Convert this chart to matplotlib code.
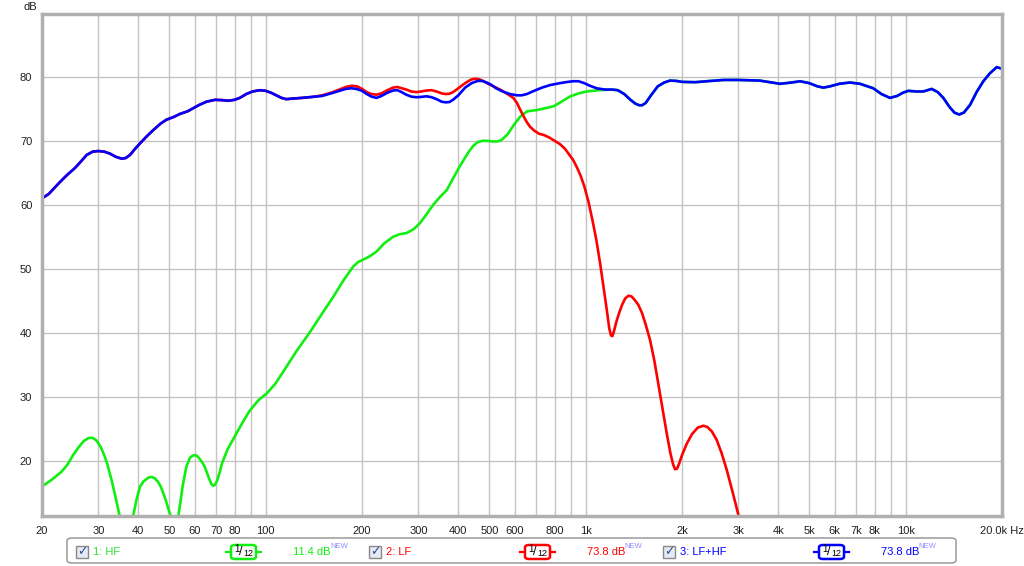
import matplotlib
matplotlib.use("Agg")
import matplotlib.pyplot as plt
from matplotlib.patches import FancyBboxPatch, Rectangle
from matplotlib.lines import Line2D

plt.rcParams['font.family'] = ['Liberation Sans', 'DejaVu Sans']

# ---------------- data ----------------
freq_hf = [20, 21.5, 23, 24, 25, 26, 27, 28, 28.8, 29.6, 30.5, 31.3, 32, 33, 34, 35, 36.7, 38.5,
           39.5, 40.5, 41.5, 43, 44, 45, 46, 47, 48, 49, 50.5, 52, 53.3, 54.3, 55, 56.5, 58, 59,
           60, 61, 62, 63.3, 64.5, 65.5, 66.5, 67.5, 68.5, 69.5, 70.5, 72, 73, 76, 79, 84, 89,
           95, 101, 107, 113, 125, 137, 150, 163, 175, 188, 195, 201, 212, 222, 235, 250, 262,
           276, 290, 303, 318, 334, 350, 368, 383, 404, 430, 445, 460, 476, 492, 510, 530, 545,
           570, 597, 625, 656, 704, 750, 795, 840, 892, 950, 1007, 1100, 1200, 1260,
           1320, 1380, 1430, 1470, 1500, 1540, 1600, 1680, 1760, 1834, 1920, 2000, 2200, 2388,
           2700, 3000, 3500, 4048, 4400, 4676, 5000, 5300, 5530, 5800, 6200, 6700, 7198, 7920,
           8400, 8930, 9400, 9800, 10190, 10800, 11350, 12060, 12600, 13110, 13700, 14200,
           14700, 15200, 15890, 16700, 17490, 18300, 19250, 20000]
db_hf = [16.0, 17.1, 18.3, 19.4, 20.9, 22.1, 23.1, 23.6, 23.6, 23.2, 22.2, 20.9, 19.5, 17.0, 14.2,
         11.3, 3.0, 11.3, 14.0, 16.0, 16.8, 17.4, 17.5, 17.3, 16.8, 16.0, 14.8, 13.5, 11.3, 3.0,
         11.3, 14.0, 16.0, 19.1, 20.5, 20.8, 20.9, 20.8, 20.4, 19.8, 19.1, 18.2, 17.3, 16.5, 16.1,
         16.3, 16.9, 18.4, 19.6, 21.8, 23.3, 25.7, 27.8, 29.5, 30.6, 32.0, 33.8, 37.2, 40.0, 43.0,
         45.7, 48.2, 50.4, 51.1, 51.4, 52.0, 52.7, 54.0, 55.0, 55.4, 55.6, 56.2, 57.1, 58.5, 60.0,
         61.2, 62.3, 63.9, 66.0, 68.2, 69.2, 69.8, 70.0, 70.0, 69.9, 69.9, 70.1, 71.0, 72.5, 73.8,
         74.6, 74.8, 75.1, 75.4, 76.1, 76.9, 77.4, 77.7, 77.9, 78.0, 77.9,
         77.3, 76.4, 75.8, 75.55, 75.55, 75.9, 77.1, 78.5, 79.1, 79.4, 79.35, 79.2, 79.15, 79.3,
         79.5, 79.5, 79.4, 78.9, 79.1, 79.3, 79.0, 78.5, 78.3, 78.5, 78.9, 79.1, 78.9, 78.2,
         77.3, 76.7, 77.0, 77.5, 77.8, 77.7, 77.7, 78.1, 77.6, 76.7, 75.3, 74.4,
         74.1, 74.4, 75.6, 77.7, 79.3, 80.5, 81.5, 81.25]

freq_lf = [20, 21, 22.8, 24, 25.3, 26.5, 27.6, 28.8, 30, 31.3, 32.6, 34, 35.5, 36.5, 37.7, 39,
           40.5, 42.5, 44.6, 47, 49, 51.5, 54, 57, 59.4, 62, 65.3, 69.5, 73, 76.4, 80, 83, 87, 91,
           96, 100, 104, 108, 112, 116, 122, 130, 140, 150, 160, 170, 178, 186, 193, 200, 207,
           214, 222, 230, 240, 250, 258, 266, 275, 285, 296, 306, 318, 330, 342, 355, 365, 375,
           385, 400, 420, 438, 451, 465, 480, 500, 520, 545, 570, 594, 610, 625, 640, 655, 670,
           690, 715, 740, 770, 800, 830, 860, 890, 914, 940, 965, 990, 1020, 1050, 1080, 1110,
           1140, 1164, 1185, 1200, 1212, 1225, 1245, 1270, 1300, 1330, 1360, 1390, 1420, 1460,
           1500, 1540, 1589, 1640, 1686, 1740, 1792, 1840, 1875, 1902, 1930, 1960, 2000, 2070,
           2150, 2240, 2332, 2400, 2480, 2566, 2660, 2760, 2880, 3000, 3080]
db_lf = [61.0, 61.7, 63.6, 64.7, 65.7, 66.8, 67.8, 68.3, 68.4, 68.3, 68.0, 67.5, 67.2, 67.3, 67.8,
         68.7, 69.6, 70.7, 71.7, 72.7, 73.3, 73.7, 74.2, 74.6, 75.1, 75.6, 76.1, 76.4, 76.35, 76.25,
         76.4, 76.7, 77.3, 77.7, 77.9, 77.8, 77.5, 77.1, 76.7, 76.5, 76.6, 76.7, 76.85, 77.1, 77.5,
         78.0, 78.4, 78.6, 78.5, 78.1, 77.6, 77.3, 77.2, 77.4, 77.9, 78.3, 78.4, 78.2, 78.0, 77.7,
         77.6, 77.7, 77.85, 77.9, 77.7, 77.4, 77.3, 77.35, 77.6, 78.2, 79.0, 79.55, 79.7, 79.6,
         79.3, 78.8, 78.4, 77.9, 77.3, 76.7, 75.9, 74.8, 73.8, 72.9, 72.2, 71.6, 71.1, 70.9, 70.5,
         70.0, 69.5, 68.8, 67.8, 67.0, 65.8, 64.5, 62.9, 60.5, 57.6, 54.5, 50.8, 46.8, 43.6, 40.7,
         39.6, 39.5, 40.2, 41.6, 43.0, 44.4, 45.4, 45.8, 45.7, 45.2, 44.4, 43.1, 41.3, 38.9, 35.6,
         32.1, 28.2, 24.3, 21.2, 19.5, 18.7, 18.8, 19.6, 20.9, 22.7, 24.2, 25.2, 25.5, 25.3, 24.6,
         23.3, 21.2, 18.6, 15.1, 11.6, 9.0]

freq_sum = [20, 21, 22.8, 24, 25.3, 26.5, 27.6, 28.8, 30, 31.3, 32.6, 34, 35.5, 36.5, 37.7, 39,
            40.5, 42.5, 44.6, 47, 49, 51.5, 54, 57, 59.4, 62, 65.3, 69.5, 73, 76.4, 80, 83, 87, 91,
            96, 100, 104, 108, 112, 116, 122, 130, 140, 150, 160, 170, 178, 185, 192, 200, 207,
            214, 222, 230, 240, 250, 258, 266, 275, 285, 296, 306, 318, 330, 342, 355, 365, 375,
            385, 400, 420, 440, 460, 475, 490, 505, 525, 550, 580, 610, 631, 655, 690, 730, 774,
            830, 880, 914, 950, 990, 1030, 1082, 1150, 1210, 1260, 1320, 1380, 1430, 1470, 1500,
            1540, 1600, 1680, 1760, 1834, 1920, 2000, 2200, 2388, 2700, 3000, 3500, 4048, 4400,
            4676, 5000, 5300, 5530, 5800, 6200, 6700, 7198, 7920, 8400, 8930, 9400, 9800, 10190,
            10800, 11350, 12060, 12600, 13110, 13700, 14200, 14700, 15200, 15890, 16700, 17490,
            18300, 19250, 20000]
db_sum = [61.0, 61.7, 63.6, 64.7, 65.7, 66.8, 67.8, 68.3, 68.4, 68.3, 68.0, 67.5, 67.2, 67.3, 67.8,
          68.7, 69.6, 70.7, 71.7, 72.7, 73.3, 73.7, 74.2, 74.6, 75.1, 75.6, 76.1, 76.4, 76.35,
          76.25, 76.4, 76.7, 77.3, 77.7, 77.9, 77.8, 77.5, 77.1, 76.7, 76.5, 76.6, 76.7, 76.85,
          77.0, 77.4, 77.8, 78.1, 78.2, 78.1, 77.8, 77.3, 76.9, 76.7, 77.0, 77.5, 77.85, 77.9,
          77.6, 77.2, 76.9, 76.8, 76.85, 76.95, 76.8, 76.5, 76.1, 76.0, 76.05, 76.4, 77.1, 78.3,
          79.0, 79.35, 79.35, 79.1, 78.8, 78.2, 77.7, 77.3, 77.1, 77.1, 77.3, 77.8, 78.3, 78.7,
          79.0, 79.2, 79.3, 79.3, 79.0, 78.6, 78.2, 78.0, 78.0, 77.9, 77.3, 76.4, 75.8, 75.55,
          75.55, 75.9, 77.1, 78.5, 79.1, 79.4, 79.35, 79.2, 79.15, 79.3, 79.5, 79.5, 79.4, 78.9,
          79.1, 79.3, 79.0, 78.5, 78.3, 78.5, 78.9, 79.1, 78.9, 78.2, 77.3, 76.7, 77.0, 77.5,
          77.8, 77.7, 77.7, 78.1, 77.6, 76.7, 75.3, 74.4, 74.1, 74.4, 75.6, 77.7, 79.3, 80.5,
          81.5, 81.25]

grid_freqs = [30, 40, 50, 60, 70, 80, 90, 100, 200, 300, 400, 500, 600, 700, 800, 900, 1000,
              2000, 3000, 4000, 5000, 6000, 7000, 8000, 9000, 10000]
x_tick_freqs = [20, 30, 40, 50, 60, 70, 80, 100, 200, 300, 400, 500, 600, 800, 1000, 2000, 3000,
                4000, 5000, 6000, 7000, 8000, 10000, 20000]
x_tick_labels = ['20', '30', '40', '50', '60', '70', '80', '100', '200', '300', '400', '500', '600',
                 '800', '1k', '2k', '3k', '4k', '5k', '6k', '7k', '8k', '10k', '20.0k Hz']
y_ticks = [20, 30, 40, 50, 60, 70, 80]

legend_names = ['1: HF', '2: LF', '3: LF+HF']
legend_levels = ['11.4 dB', '73.8 dB', '73.8 dB']

# ---------------- figure ----------------
W, H = 1024, 566
fig = plt.figure(figsize=(W / 100, H / 100), dpi=100)
fig.patch.set_facecolor('white')

def fx(x):
    return x / W

def fy(y):
    return 1 - y / H

ax = fig.add_axes([fx(42), fy(516), (1002 - 42) / W, (516 - 14) / H])
ax.set_xscale('log')
ax.set_xlim(20, 20000)
ax.set_ylim(11.4, 89.8)

for f in grid_freqs:
    ax.axvline(f, color='#c4c4c4', lw=1.0, zorder=1)
for v in y_ticks:
    ax.axhline(v, color='#c4c4c4', lw=1.0, zorder=1)

GREEN = '#11ee11'
RED = '#ff0000'
BLUE = '#0000ff'

ax.plot(freq_hf, db_hf, color=GREEN, lw=1.9, zorder=3, solid_joinstyle='round')
ax.plot(freq_lf, db_lf, color=RED, lw=1.9, zorder=4, solid_joinstyle='round')
ax.plot(freq_sum, db_sum, color=BLUE, lw=1.9, zorder=5, solid_joinstyle='round')

ax.set_xticks(x_tick_freqs)
ax.set_xticklabels(x_tick_labels)
ax.xaxis.set_minor_locator(matplotlib.ticker.NullLocator())
ax.set_yticks(y_ticks)
ax.set_yticklabels([str(v) for v in y_ticks])
ax.tick_params(axis='both', length=0, labelsize=8, colors='#202020')
ax.tick_params(axis='x', pad=7)
ax.tick_params(axis='y', pad=7)
for s in ax.spines.values():
    s.set_color('#b0b0b0')
    s.set_linewidth(2.5)
    s.set_zorder(6)

fig.text(fx(23), fy(7), 'dB', fontsize=8, color='#202020', ha='left', va='center')

# ---------------- legend bar ----------------
box = FancyBboxPatch((fx(67), fy(563)), fx(956 - 67), (563 - 538) / H,
                     boxstyle='round,pad=0,rounding_size=0.005',
                     transform=fig.transFigure, facecolor='white', edgecolor='#909090', lw=1.0)
fig.patches.append(box)

row_y = 552
check_x = [76, 369, 663]
name_x = [93, 386, 680]
icon_x = [231, 525, 819]
level_x = [293, 587, 881]
colors = [GREEN, RED, BLUE]
name_colors = ['#33dd33', RED, BLUE]

for i in range(3):
    cx = check_x[i]
    fig.patches.append(Rectangle((fx(cx), fy(row_y + 5.5)), fx(11.5), 11.5 / H,
                                 transform=fig.transFigure, facecolor='#e6eaf2',
                                 edgecolor='#8a8a8a', lw=1.0))
    fig.text(fx(cx + 6), fy(row_y), '\u2713', fontsize=9, color='#2b4c9c',
             ha='center', va='center', family=['DejaVu Sans'], fontweight='bold')
    fig.text(fx(name_x[i]), fy(row_y), legend_names[i], fontsize=8, color=name_colors[i],
             ha='left', va='center')
    # smoothing icon
    ix = icon_x[i]
    fig.lines.append(Line2D([fx(ix - 5), fx(ix + 30)], [fy(row_y), fy(row_y)],
                            transform=fig.transFigure, color=colors[i], lw=1.6))
    fig.patches.append(FancyBboxPatch((fx(ix), fy(row_y + 7)), fx(25), 14 / H,
                                      boxstyle='round,pad=0,rounding_size=0.004',
                                      transform=fig.transFigure, facecolor='white',
                                      edgecolor=colors[i], lw=1.8, zorder=3))
    fig.text(fx(ix + 6), fy(row_y - 2.5), '1', fontsize=7, color='black',
             ha='center', va='center', zorder=4)
    fig.text(fx(ix + 10), fy(row_y), '/', fontsize=9, color='black',
             ha='center', va='center', zorder=4)
    fig.text(fx(ix + 17), fy(row_y + 2), '12', fontsize=6.5, color='black',
             ha='center', va='center', zorder=4)
    # level text
    fig.text(fx(level_x[i]), fy(row_y), legend_levels[i], fontsize=8, color=colors[i],
             ha='left', va='center')
    fig.text(fx(level_x[i] + 37), fy(row_y - 5), 'NEW', fontsize=5.5, color='#8c8cff',
             ha='left', va='center')

fig.savefig('out.png', dpi=100, facecolor='white')
